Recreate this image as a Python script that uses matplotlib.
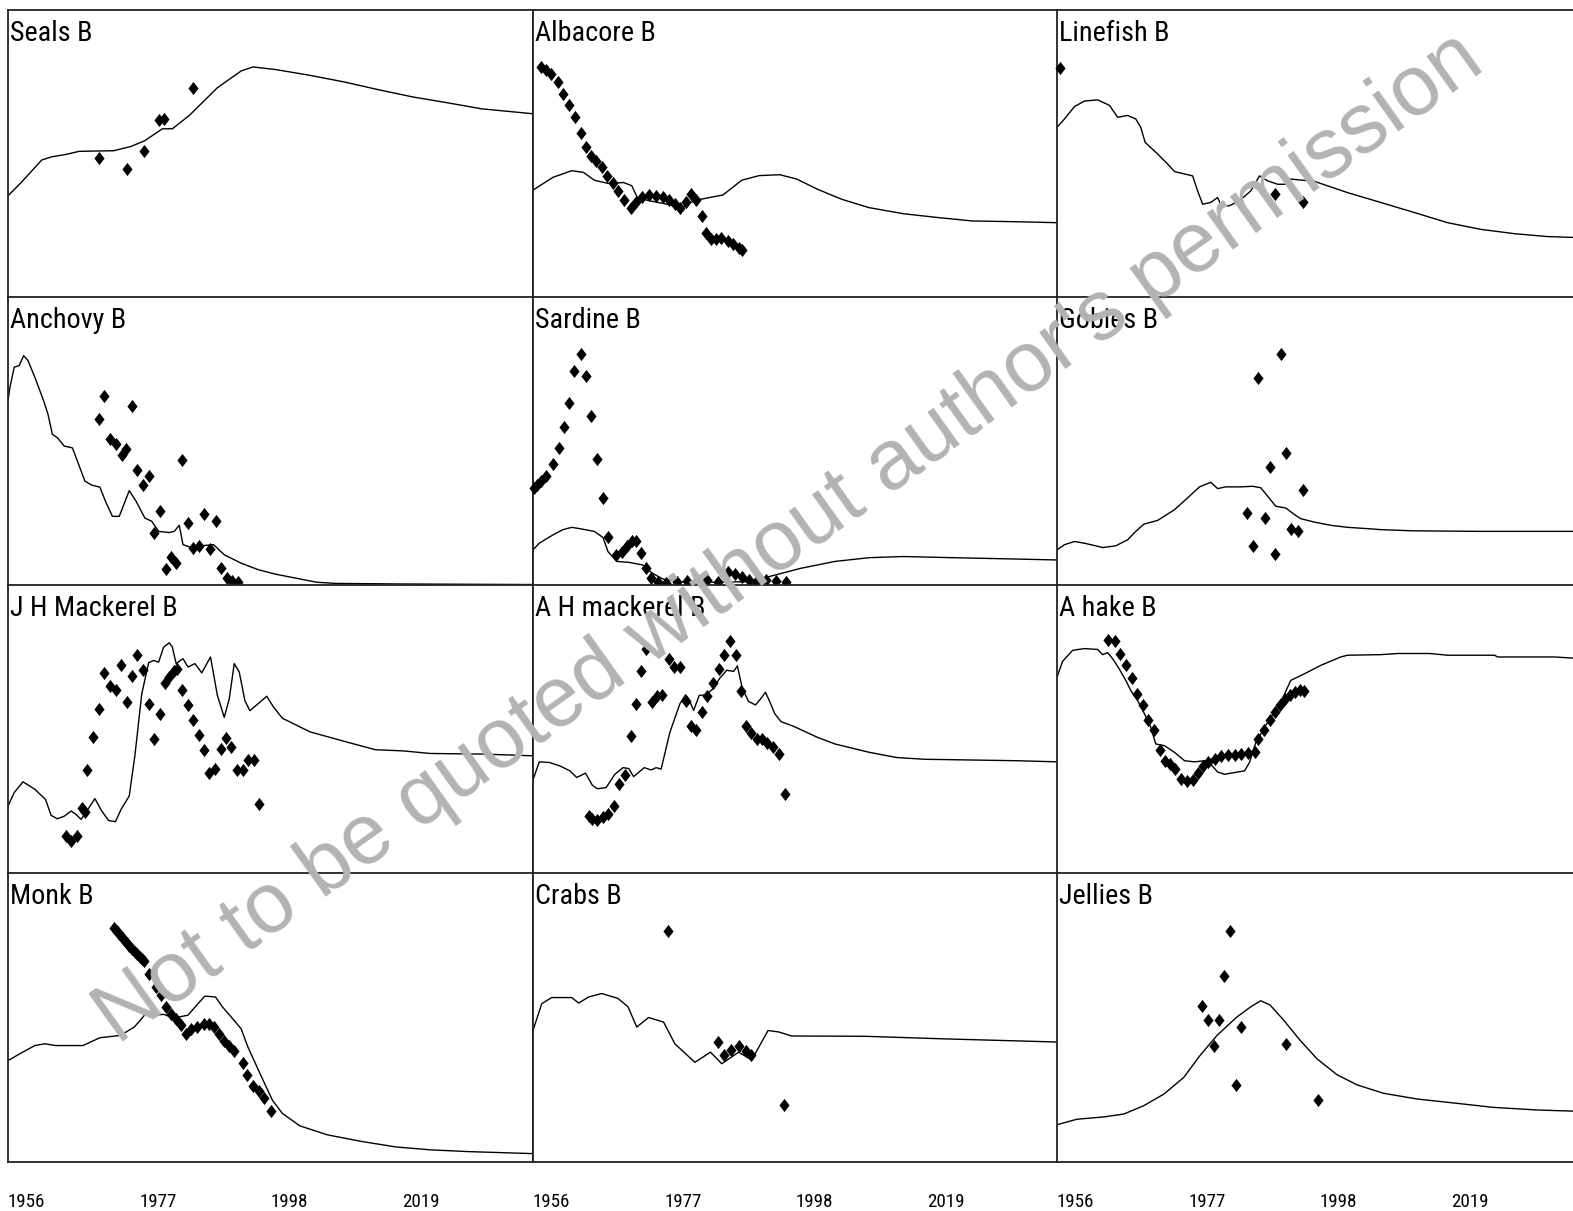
import matplotlib
matplotlib.use("Agg")
import matplotlib.pyplot as plt
from matplotlib import font_manager
from matplotlib.font_manager import FontProperties
from matplotlib.textpath import TextPath
from matplotlib.path import Path

# ---------------- data (y as % of panel height) ----------------
titles = ["Seals B", "Albacore B", "Linefish B",
          "Anchovy B", "Sardine B", "Gobies B",
          "J H Mackerel B", "A H mackerel B", "A hake B",
          "Monk B", "Crabs B", "Jellies B"]

tick_years = [1956, 1977, 1998, 2019]
x_start, x_end = 1956, 2040

seals_line_yr = [1956, 1958.1, 1961.4, 1963, 1965.2, 1967.4, 1972.9, 1975.7, 1977.9, 1980.7, 1982.3, 1985,
                 1989.5, 1993.3, 1995.2, 1998.8, 2004.3, 2009.8, 2015.3, 2020.8, 2026.3, 2031.8, 2040]
seals_line_v = [35.7, 40.3, 48.1, 49.2, 50, 51.1, 51.3, 52.8, 54.8, 58.9, 58.9, 63.5,
                73.1, 78.9, 80.3, 79.4, 77.4, 75.1, 72.4, 69.9, 67.9, 65.8, 64.1]
seals_obs_yr = [1970.6, 1975, 1977.7, 1980.2, 1981, 1985.6]
seals_obs_v = [48.8, 45, 51.3, 61.8, 62.3, 73.1]

alba_line_yr = [1956, 1959.2, 1962.2, 1964.1, 1965.8, 1968, 1970.5, 1971.8, 1972.7, 1974.6, 1977.9, 1979.5,
                1981.2, 1982.8, 1986.4, 1989.4, 1992.2, 1995.5, 1998.2, 2001.5, 2005.4, 2009.8, 2015.3,
                2020.7, 2026.3, 2031.7, 2040]
alba_line_v = [37.7, 42.1, 44.4, 43.8, 41.1, 40, 40.3, 39.2, 35.1, 34, 32.6, 31.1,
               33.4, 34.5, 36, 41.1, 42.7, 43, 41.5, 38, 34.5, 31.6, 29.5,
               28.2, 27, 26.8, 26.4]
alba_obs_yr = [1957.3, 1958.1, 1958.9, 1960, 1960.8, 1961.7, 1962.7, 1963.6, 1964.5, 1965.2, 1966.1, 1967,
               1967.9, 1968.8, 1969.6, 1970.5, 1971.6, 1972.4, 1973.5, 1974.6, 1975.7, 1976.8, 1977.8,
               1978.7, 1979.5, 1980.4, 1981.2, 1982, 1983.1, 1983.7, 1984.5, 1985.3, 1986.1, 1987.2,
               1988, 1988.9, 1989.4]
alba_obs_v = [80.3, 79.1, 78, 75.1, 71, 67, 62.9, 57.4, 52.7, 49.6, 47.9, 45.8,
              42.6, 40.3, 37.2, 34.2, 31.6, 33.4, 35.3, 36, 35.7, 35.3, 34.2,
              32.8, 31.4, 33.4, 36.3, 34.2, 28.7, 22.9, 20.6, 20.6, 21, 20,
              18.9, 17.7, 17.1]

line_line_yr = [1956, 1957.2, 1958.8, 1960.4, 1962.5, 1964.4, 1965.7, 1967.3, 1968.6, 1969.4, 1970.1, 1972.1,
                1973.7, 1974.8, 1977.7, 1978.5, 1979.3, 1980.6, 1981.7, 1982.2, 1983.5, 1985.2, 1987,
                1988.4, 1989.7, 1991.3, 1992.6, 1993.4, 1997.2, 2002.5, 2007.8, 2013.2, 2018.5, 2023.8,
                2029.2, 2034.5, 2040]
line_line_v = [59.4, 62.3, 66.6, 68.5, 68.9, 67, 62.9, 63.5, 62.3, 59.4, 54.2, 50.2,
               46.7, 44.1, 42.6, 37.4, 32.8, 33.4, 35.1, 32.6, 32.2, 34, 37.4,
               42.6, 40.9, 39.7, 39.7, 41.5, 40.7, 36.8, 33.4, 29.9, 26.4, 24.1,
               22.6, 21.6, 21.2]
line_obs_yr = [1956.4, 1990.9, 1995.3]
line_obs_v = [80, 36.3, 33.6]

anch_line_yr = [1956, 1956.3, 1957, 1957.8, 1958.5, 1959.2, 1960.3, 1961.7, 1962.4, 1963.1, 1963.9, 1965,
                1966.3, 1966.9, 1968.3, 1969.4, 1970.7, 1971.6, 1972.7, 1973.8, 1975.4, 1976.5, 1977.9,
                1979, 1980.1, 1981.8, 1982.6, 1983.4, 1984, 1985.6, 1987.3, 1988.9, 1990.6, 1993.3,
                1996.1, 1998.8, 2001.6, 2005.4, 2008.4, 2018.9, 2040]
anch_line_v = [64.1, 68.7, 75.7, 76.3, 79.7, 78, 72.2, 64.1, 59.4, 52.5, 51.3, 48.4,
               47.8, 44.4, 36.3, 34.9, 34.2, 29.3, 24.1, 24.1, 33, 29.3, 23.5,
               22.4, 18.9, 18.5, 18.9, 21, 14.3, 13.1, 14, 14.3, 10.8, 7.9,
               5.6, 4.1, 2.9, 1.3, 0.9, 0.7, 0.5]
anch_obs_yr = [1971.4, 1975.8, 1970.6, 1972.3, 1973.2, 1974.2, 1974.9, 1976.7, 1978.5, 1977.6, 1983.8,
               1980.3, 1979.4, 1984.8, 1987.4, 1989.2, 1981.2, 1982, 1982.8, 1985.6, 1986.6, 1988.3,
               1990, 1991, 1991.9, 1992.8]
anch_obs_v = [65.8, 62.3, 57.7, 50.8, 49.2, 45.5, 47.3, 40, 38.2, 35.1, 43.5,
              26.1, 18.3, 21.8, 24.9, 22.6, 5.9, 10.2, 7.9, 13.1, 13.7, 12.9,
              6.4, 2.7, 1.7, 1.5]

sard_line_yr = [1956, 1957, 1959.2, 1960.8, 1962.2, 1963.6, 1965.8, 1967.2, 1968, 1969.4, 1971.3, 1973.5,
                1975.1, 1976.8, 1979.5, 1985, 1990.5, 1994.4, 1998.8, 2004.3, 2009.8, 2015.3, 2023,
                2031.8, 2040]
sard_line_v = [12.5, 14.8, 17.7, 19.5, 20.3, 19.8, 18.9, 16.8, 11.9, 8.5, 8.2, 7.3,
               4.4, 2.4, 1.5, 1.3, 1.5, 3.6, 6.1, 8.5, 9.8, 10.2, 9.8,
               9.4, 9]
sard_obs_yr = [1956.2, 1956.7, 1957.3, 1958, 1959.2, 1960.1, 1960.9, 1961.8, 1962.6, 1963.6, 1964.5,
               1965.3, 1966.2, 1967.2, 1968, 1969.2, 1970.2, 1971, 1971.8, 1972.5, 1973.3, 1974,
               1974.9, 1976, 1977.3, 1979, 1980.6, 1982.3, 1983.9, 1985.6, 1987.2, 1988.3, 1989.4,
               1990.5, 1991.6, 1993.2, 1994.9, 1996.5]
sard_obs_v = [34, 35.1, 36.5, 38, 42.1, 47.9, 55, 63.2, 74.3, 80.3, 72.8,
              58.9, 44, 30.5, 17.1, 10.8, 11.9, 14, 15.4, 15.6, 11.4, 6.1,
              2.7, 1.5, 0.9, 1.5, 1.7, 0.9, 2.1, 1.5, 5, 4.1, 3.2,
              2.1, 1.5, 2.1, 1.7, 1.3]

gob_line_yr = [1956, 1957.2, 1958.8, 1960.4, 1962, 1963.3, 1965.4, 1967.3, 1968.6, 1969.9, 1972.1, 1974.8,
               1976.9, 1978.8, 1980.6, 1981.7, 1983, 1985.4, 1987.3, 1988.6, 1989.7, 1991, 1992.6,
               1994, 1995, 1997.2, 1999.8, 2002.5, 2006, 2007.8, 2012.9, 2023.8, 2040]
gob_line_v = [12.5, 14.3, 15.4, 14.8, 14, 13.3, 13.9, 16, 18.9, 21.4, 22.7, 26.4,
              30.5, 34.3, 35.9, 33.7, 34.3, 34.3, 34.5, 34, 31.1, 27.6, 27,
              24.7, 23.3, 22.1, 21, 20.3, 19.8, 19.5, 19.1, 18.9, 18.9]
gob_obs_yr = [1991.8, 1988.2, 1992.7, 1990, 1995.3, 1986.4, 1989.2, 1993.5, 1994.5, 1987.4, 1990.9]
gob_obs_v = [80.3, 72, 46.1, 41.1, 33.1, 25.3, 23.5, 19.8, 19.1, 13.7, 11]

jh_line_yr = [1956, 1957, 1958.4, 1960.3, 1962, 1962.9, 1963.9, 1965, 1966.1, 1966.9, 1967.7, 1968.8,
              1969.9, 1971, 1972.1, 1973.2, 1974.1, 1975.4, 1976.3, 1977.4, 1978.5, 1979.3, 1980.1,
              1980.9, 1981.8, 1982.3, 1982.9, 1984, 1984.8, 1985.9, 1987, 1988.4, 1989.5, 1990.6,
              1991.4, 1992.2, 1993, 1993.9, 1994.7, 1996, 1997.4, 1998.5, 1999.9, 2004.3, 2009.8,
              2014.8, 2019.2, 2023.6, 2031.8, 2040]
jh_line_v = [23.5, 28.2, 31.9, 29.3, 25.8, 20.3, 19.1, 20, 21.8, 20.6, 18.9, 22.4,
             26.1, 21.8, 18.5, 18.1, 22.4, 27, 40.9, 62.3, 73.1, 73.9, 73.3,
             78.5, 80, 78.5, 72.8, 74.5, 71.6, 72.8, 69.6, 75.1, 61.8, 54.2,
             60.6, 72.8, 69.9, 60, 56.5, 58.9, 61.5, 57.7, 53.9, 49.2, 45.9,
             43, 42.6, 41.7, 41.5, 40.9]
jh_obs_yr = [1965.2, 1966.1, 1967, 1967.9, 1968.3, 1968.7, 1969.6, 1970.6, 1971.4, 1972.3, 1973.2, 1974.1,
             1975, 1975.8, 1976.7, 1977.6, 1978.5, 1979.4, 1980.3, 1981.1, 1981.8, 1982.6, 1983,
             1983.8, 1984.8, 1985.6, 1986.5, 1987.4, 1988.2, 1989.1, 1990, 1990.9, 1991.7, 1992.7,
             1993.6, 1994.4, 1995.4, 1996.2]
jh_obs_v = [13.1, 11.4, 13.1, 22.7, 21.4, 36, 47.3, 57.1, 69.6, 65, 63.5, 72.4,
            59.6, 68.5, 75.7, 70.5, 58.9, 46.7, 55.4, 66.1, 68.1, 70.1, 71,
            63.8, 58.5, 53.4, 48.1, 42.9, 34.9, 36.5, 43.2, 46.9, 43.8, 36,
            36, 39.5, 39.5, 24.1]

ah_line_yr = [1956, 1957, 1958.6, 1960.3, 1961.9, 1963, 1964.4, 1965.5, 1966.3, 1967.7, 1969.1, 1970.4,
              1971.3, 1972.1, 1973.8, 1974.9, 1975.7, 1976.5, 1977.9, 1979.5, 1980.4, 1981.1, 1981.7,
              1982.6, 1983.7, 1984.8, 1985.9, 1987, 1988.1, 1988.7, 1989.5, 1990.5, 1991.6, 1992.5,
              1993.2, 1993.8, 1994.7, 1995.7, 1997.7, 2001.5, 2004.3, 2009.8, 2014.2, 2018.6, 2033.4,
              2040]
ah_line_v = [32.6, 38.8, 38.6, 37.4, 35.7, 33.4, 34.9, 30.7, 29.5, 29.9, 34.5, 36.8,
             36.5, 33.7, 36.8, 36, 36.8, 36.3, 49, 58.9, 62, 59.7, 56.6,
             61.8, 62, 64.1, 67.8, 70.5, 70.1, 72, 64.1, 59.7, 58.5, 60.8,
             62.9, 60, 55.4, 52.7, 51.1, 47.3, 45, 42.1, 40.3, 39.7, 39.2,
             38.8]
ah_obs_yr = [1965, 1965.5, 1966.3, 1967.2, 1968, 1968.9, 1969.7, 1970.7, 1971.6, 1972.4, 1973.3, 1974.1,
             1975, 1975.8, 1976.7, 1977.8, 1978.5, 1979.5, 1980.4, 1981.2, 1982.1, 1983, 1983.8,
             1984.8, 1985.7, 1986.6, 1987.5, 1988.4, 1989.3, 1990, 1990.8, 1991.8, 1992.7, 1993.5,
             1994.4, 1995.4, 1996.3]
ah_obs_v = [20, 19.1, 18.7, 19.8, 20.6, 23.5, 31.1, 34.2, 47.9, 58.9, 70.1, 77.8,
            59.4, 61.5, 62, 74.3, 71.6, 71.6, 60, 51.1, 50, 56, 61.5,
            66.1, 71, 75.9, 80.5, 75.9, 63.2, 51.1, 48.8, 46.7, 46.7, 45.5,
            43.8, 41.5, 27.6]

hake_line_yr = [1956, 1956.9, 1958.5, 1960.4, 1962.5, 1963.3, 1964.1, 1964.9, 1966, 1967.1, 1967.8, 1968.9,
                1970, 1971, 1971.8, 1973.2, 1974.8, 1976.4, 1978, 1979.6, 1980.6, 1981.7, 1982.8,
                1984.4, 1986, 1986.8, 1987.8, 1989.7, 1991.8, 1993.4, 1995.6, 1998.2, 2001.4, 2002.5,
                2007.8, 2010.5, 2015.6, 2018.5, 2026, 2026.5, 2035.6, 2040]
hake_line_v = [68.1, 73.6, 77.4, 78, 77.7, 75.9, 76.6, 74.5, 70.8, 66.6, 63.5, 60,
               55.4, 50.8, 45, 44.4, 42.1, 39.2, 38.8, 39.2, 38, 35.3, 34.5,
               35.1, 35.7, 38.6, 45.5, 52.5, 59.4, 67, 69.3, 72.2, 75.1, 75.7,
               75.9, 76.3, 76.3, 75.7, 75.7, 75.1, 75.1, 74.5]
hake_obs_yr = [1964.2, 1965.2, 1966.1, 1967, 1968, 1968.8, 1969.7, 1970.5, 1971.5, 1972.4, 1973.2, 1974,
               1974.9, 1975.8, 1976.8, 1977.7, 1978.5, 1979.3, 1980.1, 1981.2, 1982.2, 1983.3, 1984.4,
               1985.4, 1986.5, 1987.6, 1988.1, 1989.1, 1990, 1990.8, 1991.6, 1992.4, 1993.2, 1994,
               1994.8, 1995.5]
hake_obs_v = [80.9, 80.5, 76.2, 72.4, 67.8, 62.3, 58.5, 53.4, 50, 43, 39.2, 38,
              36.3, 32.8, 32.2, 32.6, 34.9, 37.4, 38.8, 39.7, 40.9, 41.1, 41.1,
              41.5, 41.8, 42.3, 46.7, 50, 53.4, 56, 58.5, 60.6, 62, 62.9,
              63.5, 63.2]

monk_line_yr = [1956, 1958.1, 1960.3, 1961.9, 1963.6, 1968, 1970.7, 1974, 1976.2, 1977.4, 1978.2, 1979.6,
                1980.9, 1982, 1983.4, 1984.8, 1986.4, 1987.5, 1989.2, 1990.3, 1991.7, 1993.3, 1994.4,
                1995.5, 1996.6, 1998.3, 1999.9, 2002.7, 2007.1, 2012.6, 2018.1, 2023.6, 2029.6, 2040]
monk_line_v = [35.1, 37.7, 40.3, 40.9, 40.3, 40.3, 43, 43.8, 46.7, 49.6, 51.9, 50.8,
               51.1, 50.2, 50.2, 50.8, 54.8, 57.4, 57.1, 53.7, 50.2, 46.1, 39.7,
               34.5, 29.3, 21.4, 16.8, 12.5, 9.4, 7.1, 5.2, 4.2, 3.6, 2.9]
monk_obs_yr = [1972.95, 1973.4, 1973.8, 1974.2, 1974.6, 1975, 1975.4, 1975.9, 1976.3, 1976.7, 1977.1,
               1977.5, 1977.8, 1978.5, 1979.6, 1980.4, 1981.2, 1982, 1982.9, 1983.7, 1984.5, 1985.3,
               1986.2, 1987.3, 1988.1, 1988.9, 1989.7, 1990.6, 1991.4, 1992.2, 1993.6, 1994.3,
               1995.2, 1996.1, 1996.9, 1998]
monk_obs_v = [80.9, 79.9, 78.9, 77.9, 76.8, 75.8, 74.8, 73.8, 72.8, 71.9, 71, 70.3, 69.6,
              65.2, 60.6, 57.7, 53.7, 51.3, 49.6, 47.3, 44.3, 46.1,
              46.7, 47.9, 47.6, 46.7, 44.3, 42, 40.3, 38.5, 34.2, 30.2,
              26.4, 24.5, 22, 17.7]

crab_line_yr = [1956, 1957.4, 1959, 1962.2, 1963.3, 1964.9, 1967, 1969.6, 1971.2, 1972.6, 1974.5, 1976.9,
                1978.7, 1981.9, 1984.4, 1986.2, 1988.9, 1991, 1993.6, 1995.3, 1997.4, 2009.1, 2021.9,
                2035.2, 2040]
crab_line_v = [45.5, 54.8, 56.9, 56.9, 55, 57.1, 58.3, 56.6, 53.7, 46.7, 50, 48.4,
               40.9, 34.5, 38, 34, 38, 35.3, 45.5, 45, 43.6, 43.5, 42.6,
               41.8, 41.5]
crab_obs_yr = [1977.6, 1985.6, 1986.6, 1987.7, 1989, 1990.1, 1990.9, 1996.2]
crab_obs_v = [80, 41.5, 36.9, 38.6, 40.3, 38.4, 36.9, 19.8]

jel_line_yr = [1956, 1959.2, 1963.5, 1966.7, 1969.9, 1973.1, 1976.3, 1978.9, 1981.6, 1984.8, 1987, 1988.6,
               1990.1, 1992.3, 1994.9, 1997.6, 2000.8, 2004, 2008.2, 2013.6, 2020, 2025.8, 2032.8, 2040]
jel_line_v = [12.9, 14.8, 15.6, 16.6, 19.5, 23.5, 29.3, 36.9, 43.8, 50.2, 53.7, 55.8,
              54.3, 49, 42.1, 35.7, 30.2, 26.7, 23.8, 21.8, 20.3, 18.9, 18, 17.5]
jel_obs_yr = [1983.7, 1982.7, 1979.2, 1980.2, 1981.9, 1985.5, 1981.1, 1992.6, 1984.6, 1997.8]
jel_obs_v = [80, 64.3, 53.9, 49.2, 49.2, 46.7, 40, 40.9, 26.8, 21.6]

series = [
    (seals_line_yr, seals_line_v, seals_obs_yr, seals_obs_v),
    (alba_line_yr, alba_line_v, alba_obs_yr, alba_obs_v),
    (line_line_yr, line_line_v, line_obs_yr, line_obs_v),
    (anch_line_yr, anch_line_v, anch_obs_yr, anch_obs_v),
    (sard_line_yr, sard_line_v, sard_obs_yr, sard_obs_v),
    (gob_line_yr, gob_line_v, gob_obs_yr, gob_obs_v),
    (jh_line_yr, jh_line_v, jh_obs_yr, jh_obs_v),
    (ah_line_yr, ah_line_v, ah_obs_yr, ah_obs_v),
    (hake_line_yr, hake_line_v, hake_obs_yr, hake_obs_v),
    (monk_line_yr, monk_line_v, monk_obs_yr, monk_obs_v),
    (crab_line_yr, crab_line_v, crab_obs_yr, crab_obs_v),
    (jel_line_yr, jel_line_v, jel_obs_yr, jel_obs_v),
]

watermark = "Not to be quoted without author's permission"

# ---------------- fonts: prefer a narrow / condensed sans ----------------
def pick_label_font():
    prefer = ["Liberation Sans Narrow", "Arial Narrow", "Roboto Condensed",
              "Noto Sans Condensed", "Open Sans Condensed", "DejaVu Sans Condensed"]
    entries = font_manager.fontManager.ttflist
    for p in prefer:
        for f in entries:
            if f.name == p and f.style == "normal" and f.weight in (400, "normal", "regular"):
                return FontProperties(fname=f.fname)
    for f in entries:
        low = (f.name + " " + str(f.stretch)).lower()
        if ("narrow" in low or "condensed" in low) and "semi" not in low and "extra" not in low \
                and f.style == "normal" and f.weight in (400, "normal", "regular") \
                and "mono" not in low and "serif" not in f.name.lower().replace("sans serif", ""):
            return FontProperties(fname=f.fname)
    return FontProperties(family="Liberation Sans")

label_fp = pick_label_font()
DPI = 100

def fit_size(fp, text, cap_char, target_w_px, target_cap_px):
    w = TextPath((0, 0), text, size=100, prop=fp).get_extents().width
    hcap = TextPath((0, 0), cap_char, size=100, prop=fp).get_extents().height
    px = DPI / 72.0
    s_w = target_w_px / (w / 100.0 * px)
    s_h = target_cap_px / (hcap / 100.0 * px)
    s = min(s_w, s_h)
    return s, hcap / 100.0 * s * px

title_fs, title_cap_px = fit_size(label_fp, "Seals B", "B", 83, 20)
tick_fs, tick_cap_px = fit_size(label_fp, "1956", "1", 35, 14)

# ---------------- layout ----------------
W, H = 1573, 1211
fig = plt.figure(figsize=(W / DPI, H / DPI), dpi=DPI)

col_left = [8, 533, 1057]
row_top = [10, 297, 585, 873]
pw, ph = 525, 289

diamond = Path([(0, 1), (0.77, 0), (0, -1), (-0.77, 0), (0, 1)],
               [Path.MOVETO, Path.LINETO, Path.LINETO, Path.LINETO, Path.CLOSEPOLY])

px2pt = 72.0 / DPI
for i, (title, (lx, ly, ox, oy)) in enumerate(zip(titles, series)):
    r, c = divmod(i, 3)
    left = col_left[c] / W
    bottom = (H - row_top[r] - ph) / H
    ax = fig.add_axes([left, bottom, pw / W, ph / H])
    ax.plot(lx, ly, color="black", lw=1.0)
    ax.plot(ox, oy, linestyle="none", marker=diamond, markersize=9.5,
            color="black", markeredgewidth=0, clip_on=False, zorder=3)
    ax.set_xlim(x_start, x_end)
    ax.set_ylim(0, 100)
    ax.set_yticks([])
    for sp in ax.spines.values():
        sp.set_linewidth(1.3)
        sp.set_color("#222222")
    ax.annotate(title, xy=(0, 1), xycoords="axes fraction",
                xytext=(2 * px2pt, -(11 + title_cap_px) * px2pt),
                textcoords="offset points", ha="left", va="baseline",
                fontproperties=label_fp, fontsize=title_fs, color="black")
    if r == 3:
        ax.set_xticks(tick_years)
        ax.set_xticklabels([str(t) for t in tick_years], fontproperties=label_fp,
                           fontsize=tick_fs, ha="left", va="baseline")
        ax.tick_params(axis="x", length=0, pad=(1207 - 1162) * px2pt)
    else:
        ax.set_xticks([])

fig.text(802 / W, 1 - 557 / H, watermark, rotation=35.5, rotation_mode="anchor",
         ha="center", va="baseline", fontsize=61.3, color="#b3b3b3",
         family=["Liberation Sans", "DejaVu Sans"], zorder=10)

fig.savefig("out.png", dpi=DPI, facecolor="white")
